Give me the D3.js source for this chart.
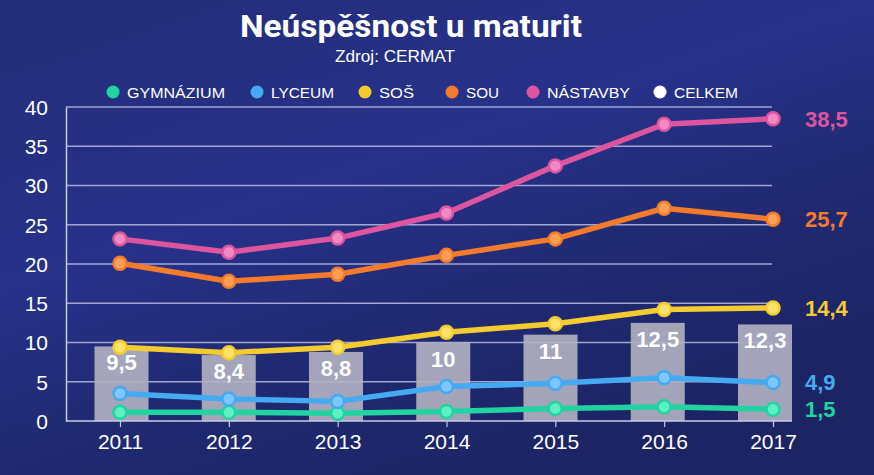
<!DOCTYPE html>
<html><head><meta charset="utf-8">
<script src="https://cdn.jsdelivr.net/npm/d3@7"></script>
<style>body{margin:0;background:#1f2870;}svg{display:block;}</style>
</head><body>
<script>
const years = [2011, 2012, 2013, 2014, 2015, 2016, 2017];
const celkem = [9.5, 8.4, 8.8, 10, 11, 12.5, 12.3];
const gymnazium = [1.1, 1.1, 1.0, 1.2, 1.6, 1.8, 1.5];
const lyceum = [3.5, 2.8, 2.5, 4.4, 4.8, 5.5, 4.9];
const sos = [9.4, 8.7, 9.4, 11.3, 12.4, 14.2, 14.4];
const sou = [20.1, 17.8, 18.7, 21.1, 23.2, 27.1, 25.7];
const nastavby = [23.2, 21.5, 23.3, 26.5, 32.5, 37.8, 38.5];
const seriesNames = ["GYMNÁZIUM", "LYCEUM", "SOŠ", "SOU", "NÁSTAVBY", "CELKEM"];
const yTicks = [0, 5, 10, 15, 20, 25, 30, 35, 40];
const lastLabels = ["1,5", "4,9", "14,4", "25,7", "38,5"];

const W = 874, H = 475;
const colors = {"GYMNÁZIUM":"#22d3a2","LYCEUM":"#45aaf2","SOŠ":"#f4cc30","SOU":"#f47b2c","NÁSTAVBY":"#dd559f","CELKEM":"#ffffff"};
const pointFill = {"GYMNÁZIUM":"#5cf0c4","LYCEUM":"#7ec6fb","SOŠ":"#fbe36a","SOU":"#fb9f55","NÁSTAVBY":"#f08ac4"};
const lines = [
  {name:"GYMNÁZIUM", values:gymnazium, label:lastLabels[0]},
  {name:"LYCEUM", values:lyceum, label:lastLabels[1]},
  {name:"SOŠ", values:sos, label:lastLabels[2]},
  {name:"SOU", values:sou, label:lastLabels[3]},
  {name:"NÁSTAVBY", values:nastavby, label:lastLabels[4]}
];

const svg = d3.select("body").append("svg").attr("width", W).attr("height", H);
const defs = svg.append("defs");
const bg = defs.append("linearGradient").attr("id","bg").attr("x1","0").attr("y1","0").attr("x2","0.6").attr("y2","1");
bg.append("stop").attr("offset","0").attr("stop-color","#242d77");
bg.append("stop").attr("offset","0.45").attr("stop-color","#27318a");
bg.append("stop").attr("offset","0.7").attr("stop-color","#202a72");
bg.append("stop").attr("offset","1").attr("stop-color","#1c2464");
svg.append("rect").attr("width",W).attr("height",H).attr("fill","url(#bg)");

const x = d3.scalePoint().domain(years).range([120, 773]);
const xBar = d3.scalePoint().domain(years).range([121.5, 765]);
const y = d3.scaleLinear().domain([0, 40]).range([421, 107]);
const plotLeft = 66, gridRight = 772, axisRight = 792;
const font = "Roboto, 'Noto Sans', sans-serif";
const font2 = "'Liberation Sans', Arial, sans-serif";

// title
svg.append("text").attr("x", 411).attr("y", 37).attr("text-anchor","middle")
  .attr("font-family", font).attr("font-weight", 700).attr("font-size", 31)
  .attr("fill","#ffffff").attr("textLength", 342).attr("lengthAdjust","spacingAndGlyphs")
  .text("Neúspěšnost u maturit");
svg.append("text").attr("x", 395).attr("y", 62).attr("text-anchor","middle")
  .attr("font-family", font2).attr("font-size", 16).attr("fill","#ffffff")
  .attr("textLength", 120).attr("lengthAdjust","spacingAndGlyphs")
  .text("Zdroj: CERMAT");

// legend
const legendX = [113, 257, 365, 452, 533, 660];
const legendW = [98, 63, 35, 33, 83, 64];
const lg = svg.append("g").attr("font-family", font2).attr("font-size", 15.5).attr("fill","#ffffff");
seriesNames.forEach((n,i) => {
  lg.append("circle").attr("cx", legendX[i]).attr("cy", 92).attr("r", 6.5).attr("fill", colors[n]);
  lg.append("text").attr("x", legendX[i] + 14).attr("y", 97.5)
    .attr("textLength", legendW[i]).attr("lengthAdjust","spacingAndGlyphs").text(n);
});

// grid
const grid = svg.append("g");
yTicks.filter(t => t > 0).forEach(t => {
  grid.append("line").attr("x1", plotLeft).attr("x2", gridRight).attr("y1", y(t)).attr("y2", y(t))
    .attr("stroke","#b9bde0").attr("stroke-width",1.5).attr("opacity",0.85);
});

// y axis
const yAxis = d3.axisLeft(y).tickValues(yTicks).tickSize(0).tickPadding(0).tickFormat(d3.format("d"));
const yg = svg.append("g").attr("transform", `translate(${plotLeft},0)`).call(yAxis);
yg.select(".domain").attr("stroke","#c8cbe6").attr("stroke-width",1.5);
yg.selectAll("text").attr("x", -18).attr("dy","0.35em").attr("font-family", font2)
  .attr("font-size", 21).attr("fill","#ffffff");

// bars
const bw = 54;
svg.append("g").selectAll("rect").data(celkem).join("rect")
  .attr("x", (d,i) => xBar(years[i]) - bw/2).attr("width", bw)
  .attr("y", d => y(d)).attr("height", d => y(0) - y(d))
  .attr("fill","#b2b2c2").attr("opacity",0.9);

// x axis
const xAxis = d3.axisBottom(x).tickSize(6).tickPadding(7).tickFormat(d3.format("d"));
const xg = svg.append("g").attr("transform", `translate(0,${y(0)})`).call(xAxis);
xg.select(".domain").remove();
xg.append("line").attr("x1", plotLeft).attr("x2", axisRight).attr("y1", 0).attr("y2", 0)
  .attr("stroke","#c8cbe6").attr("stroke-width",1.5);
xg.selectAll(".tick line").attr("stroke","#c8cbe6").attr("stroke-width",1.2);
xg.selectAll(".tick text").attr("font-family", font2).attr("font-size", 21).attr("fill","#ffffff");

// bar labels
svg.append("g").selectAll("text").data(celkem).join("text")
  .attr("x", (d,i) => xBar(years[i])).attr("y", d => y(d) + 24)
  .attr("text-anchor","middle").attr("font-family", font2).attr("font-weight", 700)
  .attr("font-size", 22).attr("fill","#ffffff")
  .text(d => String(d).replace(".", ","));

// lines
const lineGen = d3.line().x((d,i) => x(years[i])).y(d => y(d)).curve(d3.curveLinear);
const lg2 = svg.append("g");
lines.forEach(s => {
  lg2.append("path").attr("d", lineGen(s.values)).attr("fill","none")
    .attr("stroke", colors[s.name]).attr("stroke-width", 5.5).attr("stroke-linejoin","round");
  lg2.selectAll(null).data(s.values).join("circle")
    .attr("cx", (d,i) => x(years[i])).attr("cy", d => y(d)).attr("r", 6.5)
    .attr("fill", pointFill[s.name]).attr("stroke", colors[s.name]).attr("stroke-width", 2.5);
  lg2.append("text").attr("x", 805).attr("y", y(s.values[s.values.length-1])).attr("dy","0.36em")
    .attr("font-family", font2).attr("font-weight", 700).attr("font-size", 22)
    .attr("fill", colors[s.name]).text(s.label);
});
</script>
</body></html>
